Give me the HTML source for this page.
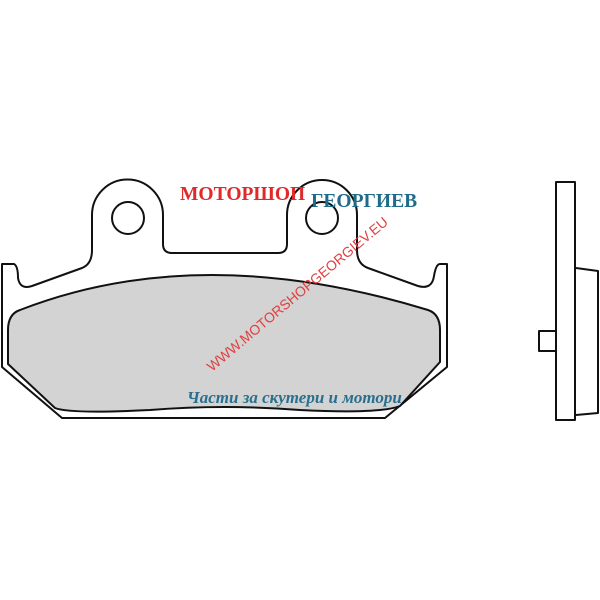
<!DOCTYPE html>
<html><head><meta charset="utf-8"><style>body{margin:0;background:#fff}svg{display:block}</style></head>
<body>
<svg width="600" height="600" viewBox="0 0 600 600" xmlns="http://www.w3.org/2000/svg">
<g fill="none" stroke="#111" stroke-width="2" stroke-linejoin="round">
<path d="M2,264 L14,264 Q18,266 18,278 Q20,290 32,286 L82,268 Q92,264 92,250 L92,215 A35.5,35.5 0 0 1 163,215 L163,244 Q163,253 172,253 L278,253 Q287,253 287,244 L287,215 A35,35 0 0 1 357,215 L357,250 Q357,264 368,268 L418,286 Q432,290 434,276 Q436,264 440,264 L447,264 L447,367 L385,418 L62,418 L2,367 Z" fill="#fff"/>
<circle cx="128" cy="218" r="16"/>
<circle cx="322" cy="218" r="16"/>
<path d="M20,310 Q200,240 428,310 Q440,314 440,330 L440,362 L400,406 Q380,414 300,410 Q225,404 150,410 Q70,414 55,408 L8,364 L8,330 Q8,314 20,310 Z" fill="#d3d3d3"/>
<rect x="556" y="182" width="19" height="238" fill="#fff"/>
<path d="M576,268 L598,271 L598,413 L576,415"/>
<rect x="539" y="331" width="17" height="20" fill="#fff"/>
</g>
<text x="180" y="200" font-family="Liberation Serif,serif" font-weight="bold" font-size="19.5" fill="#e02a2a">МОТОРШОП</text>
<text x="311" y="207" font-family="Liberation Serif,serif" font-weight="bold" font-size="19.5" fill="#1f6b8a">ГЕОРГИЕВ</text>
<text x="0" y="0" transform="translate(212,372) rotate(-40)" font-family="Liberation Sans,sans-serif" font-size="14" fill="#e04040">WWW.MOTORSHOPGEORGIEV.EU</text>
<text x="187" y="403" font-family="Liberation Serif,serif" font-style="italic" font-weight="bold" font-size="17" fill="#2a6f8e">Части за скутери и мотори</text>
</svg>
</body></html>
